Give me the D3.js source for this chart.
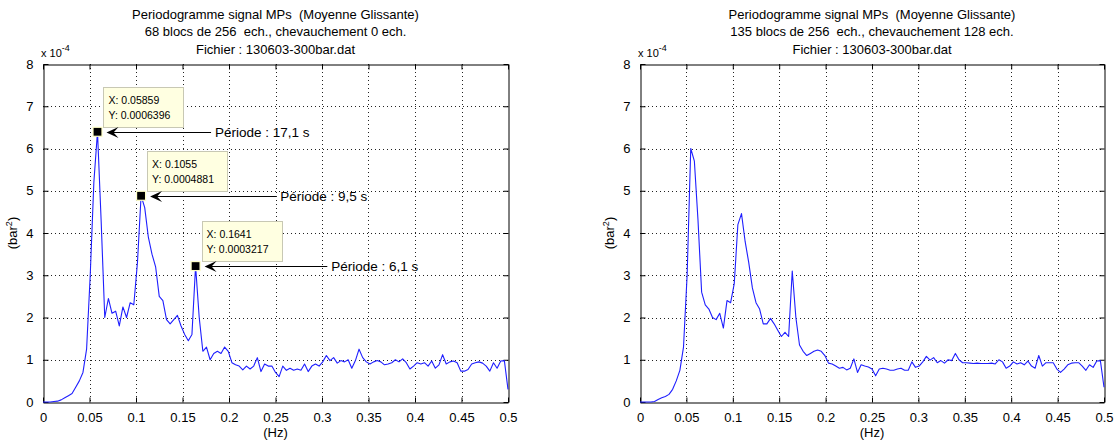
<!DOCTYPE html>
<html><head><meta charset="utf-8">
<script src="https://cdn.jsdelivr.net/npm/d3@7"></script>
<style>
html,body{margin:0;padding:0;background:#fff;}
svg{display:block;}
text{font-family:"Liberation Sans",Arial,Helvetica,sans-serif;fill:#000;white-space:pre;}
</style></head>
<body>
<script>
// ---- data (units of 1e-4 bar^2), frequency bins k/256 Hz, k = 0..128 ----
const nfft = 256;
const psdLeft = [
0,0,0,0.01,0.02,0.05,0.1,0.15,0.2,0.35,
0.5,0.7,1.25,3.0,5.2,6.396,4.3,2.0,2.45,2.1,
2.15,1.8,2.25,2.0,2.35,2.3,3.3,4.881,4.6,3.9,
3.5,3.2,2.5,2.4,1.95,1.85,1.95,2.05,1.8,1.6,
1.45,1.6,3.217,2.0,1.2,1.3,1.0,1.15,1.2,1.15,
1.3,1.2,0.93,0.88,0.85,0.76,0.85,0.78,0.85,1.05,
0.72,0.9,0.85,0.85,0.7,0.6,0.85,0.75,0.8,0.75,
0.78,0.75,0.9,0.72,0.85,0.9,0.85,0.95,1.1,0.98,
1.05,0.92,0.98,0.95,1.0,0.8,0.98,1.25,1.05,0.95,
0.9,0.95,0.98,0.95,0.88,0.9,0.93,1.0,0.95,1.02,
0.93,0.78,0.85,0.93,0.9,0.93,0.85,0.97,0.8,0.88,
1.12,0.9,0.95,0.97,0.93,0.73,0.73,0.77,0.9,0.93,
0.95,0.92,0.85,0.73,0.93,0.8,0.97,0.98,0.3
];
const psdRight = [
0,0,0,0,0.01,0.06,0.1,0.13,0.18,0.3,
0.5,0.75,1.3,3.0,6.0,5.7,4.3,2.6,2.3,2.2,
2.0,1.95,2.1,1.75,2.4,2.35,2.8,4.2,4.46,3.8,
3.3,2.7,2.35,2.2,1.85,1.85,1.98,1.85,1.7,1.55,
1.65,1.55,3.1,2.0,1.35,1.2,1.1,1.15,1.2,1.23,
1.2,1.1,0.92,0.9,0.85,0.8,0.82,0.76,0.8,1.02,
0.7,0.88,0.85,0.83,0.78,0.62,0.78,0.8,0.78,0.75,
0.75,0.78,0.8,0.75,0.75,0.95,0.82,0.85,0.95,1.08,
0.99,1.05,0.93,0.98,0.92,1.0,0.98,1.15,1.0,0.93,
0.93,0.92,0.91,0.92,0.91,0.91,0.91,0.92,0.9,1.0,
0.95,0.8,0.85,0.95,0.9,0.93,0.88,0.97,0.85,0.8,
1.1,0.85,0.93,0.93,0.93,0.78,0.7,0.78,0.88,0.92,
0.93,0.93,0.85,0.75,0.88,0.82,0.97,0.98,0.35
];
const xTicks = [0,0.05,0.1,0.15,0.2,0.25,0.3,0.35,0.4,0.45,0.5];
const xTickLabels = ["0","0.05","0.1","0.15","0.2","0.25","0.3","0.35","0.4","0.45","0.5"];
const yTicks = [0,1,2,3,4,5,6,7,8];
const titleLeft = ["Periodogramme signal MPs  (Moyenne Glissante)","68 blocs de 256  ech., chevauchement 0 ech.","Fichier : 130603-300bar.dat"];
const titleRight = ["Periodogramme signal MPs  (Moyenne Glissante)","135 blocs de 256  ech., chevauchement 128 ech.","Fichier : 130603-300bar.dat"];
const tipIndex = [15,27,42];
const tipX = ["X: 0.05859","X: 0.1055","X: 0.1641"];
const tipY = ["Y: 0.0006396","Y: 0.0004881","Y: 0.0003217"];
const periodLabels = ["Période : 17,1 s","Période : 9,5 s","Période : 6,1 s"];
const periodTextX = [0.185, 0.255, 0.31]; // frequency position of annotation text (Hz)

const W = 1119, H = 443;
const svg = d3.select("body").append("svg").attr("width",W).attr("height",H);
svg.append("rect").attr("width",W).attr("height",H).attr("fill","#fff");

function panel(left, right, data, titles, withTips){
  const top = 64, bottom = 402;
  const x = d3.scaleLinear().domain([0,0.5]).range([left,right]);
  const y = d3.scaleLinear().domain([0,8]).range([bottom,top]);
  const g = svg.append("g");
  // grid
  g.selectAll(".gx").data(xTicks.slice(1,-1)).enter().append("line")
    .attr("x1",d=>Math.round(x(d))+0.5).attr("x2",d=>Math.round(x(d))+0.5)
    .attr("y1",top).attr("y2",bottom)
    .attr("stroke","#222").attr("stroke-width",1).attr("stroke-dasharray","1,3");
  g.selectAll(".gy").data(yTicks.slice(1,-1)).enter().append("line")
    .attr("y1",d=>Math.round(y(d))+0.5).attr("y2",d=>Math.round(y(d))+0.5)
    .attr("x1",left).attr("x2",right)
    .attr("stroke","#222").attr("stroke-width",1).attr("stroke-dasharray","1,3");
  // axes via d3 axis (inward ticks)
  const fmt = (d,i)=>xTickLabels[i];
  const axB = g.append("g").attr("transform",`translate(0,${bottom+0.5})`)
    .call(d3.axisBottom(x).tickValues(xTicks).tickFormat(fmt).tickSizeInner(-5).tickSizeOuter(0).tickPadding(10));
  const axT = g.append("g").attr("transform",`translate(0,${top+0.5})`)
    .call(d3.axisTop(x).tickValues(xTicks).tickFormat("").tickSizeInner(-5).tickSizeOuter(0));
  const axL = g.append("g").attr("transform",`translate(${left+0.5},0)`)
    .call(d3.axisLeft(y).tickValues(yTicks).tickFormat(d3.format("d")).tickSizeInner(-5).tickSizeOuter(0).tickPadding(10));
  const axR = g.append("g").attr("transform",`translate(${right+0.5},0)`)
    .call(d3.axisRight(y).tickValues(yTicks).tickFormat("").tickSizeInner(-5).tickSizeOuter(0));
  [axB,axT,axL,axR].forEach(a=>{
    a.selectAll("path").attr("stroke","#000");
    a.selectAll("line").attr("stroke","#000");
    a.selectAll("text").attr("font-size",13).attr("fill","#000")
      .attr("font-family","'Liberation Sans',Arial,sans-serif");
  });
  // curve
  const line = d3.line().x((d,i)=>x(i/nfft)).y(d=>y(d));
  g.append("path").datum(data).attr("d",line).attr("fill","none")
    .attr("stroke","#1f1fff").attr("stroke-width",1.1).attr("stroke-linejoin","round");
  // titles
  const cx = (left+right)/2;
  titles.forEach((t,i)=>{
    g.append("text").attr("x",cx).attr("y",18.5+i*17.8).attr("text-anchor","middle")
      .attr("font-size",13).attr("xml:space","preserve").text(t);
  });
  // exponent
  const ex = g.append("text").attr("x",left-2).attr("y",57).attr("font-size",11);
  ex.append("tspan").text("x 10");
  ex.append("tspan").attr("dy",-6).attr("font-size",9).text("-4");
  // axis labels
  g.append("text").attr("x",cx).attr("y",437).attr("text-anchor","middle").attr("font-size",13).text("(Hz)");
  const yl = g.append("text").attr("transform",`translate(${left-26},${(top+bottom)/2}) rotate(-90)`)
    .attr("text-anchor","middle").attr("font-size",13);
  yl.append("tspan").text("(bar");
  yl.append("tspan").attr("dy",-5).attr("font-size",9).text("2");
  yl.append("tspan").attr("dy",5).text(")");
  if(withTips){
    tipIndex.forEach((k,j)=>{
      const mx = x(k/nfft), my = y(data[k]);
      // tooltip box
      const bx = mx+6, by = my-5-40;
      g.append("rect").attr("x",Math.round(bx)+0.5).attr("y",Math.round(by)+0.5).attr("width",80).attr("height",40)
        .attr("fill","#ffffe1").attr("stroke","#c8c8b4").attr("stroke-width",1);
      g.append("text").attr("x",bx+5).attr("y",by+17).attr("font-size",10.5).text(tipX[j]);
      g.append("text").attr("x",bx+5).attr("y",by+32).attr("font-size",10.5).text(tipY[j]);
      // marker
      g.append("rect").attr("x",mx-4.5).attr("y",my-4.5).attr("width",9).attr("height",9)
        .attr("fill","#000").attr("stroke","#ffffc8").attr("stroke-width",1.2);
      // arrow
      const tx = x(periodTextX[j]);
      const ax0 = mx+9;
      g.append("line").attr("x1",ax0+6).attr("x2",tx-4).attr("y1",Math.round(my)+0.5).attr("y2",Math.round(my)+0.5)
        .attr("stroke","#000").attr("stroke-width",1);
      const ay = Math.round(my)+0.5;
      g.append("path").attr("d",`M${ax0},${ay} L${ax0+12},${ay-5.5} L${ax0+7},${ay} L${ax0+12},${ay+5.5} Z`)
        .attr("fill","#000");
      g.append("text").attr("x",tx).attr("y",my+5).attr("font-size",13.5).text(periodLabels[j]);
    });
  }
}
panel(43, 508, psdLeft, titleLeft, true);
panel(640, 1104, psdRight, titleRight, false);
</script>
</body></html>
